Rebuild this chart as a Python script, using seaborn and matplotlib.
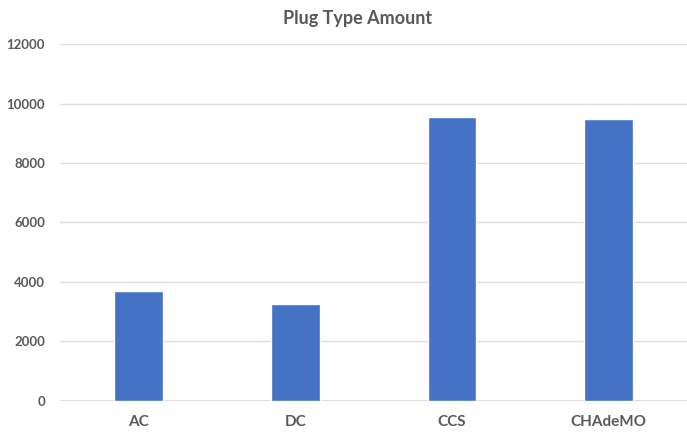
import matplotlib
matplotlib.use("Agg")
import matplotlib.pyplot as plt
import seaborn as sns
import pandas as pd

plug_types = ["AC", "DC", "CCS", "CHAdeMO"]
amounts = [3700, 3250, 9550, 9490]
y_ticks = [0, 2000, 4000, 6000, 8000, 10000, 12000]

sns.set_theme(style="white")
plt.rcParams["font.family"] = ["Lato", "DejaVu Sans"]

df = pd.DataFrame({"plug": plug_types, "amount": amounts})

fig = plt.figure(figsize=(6.87, 4.32), dpi=100)
ax = fig.add_axes([0.088, 0.072, 0.912, 0.826])

sns.barplot(data=df, x="plug", y="amount", color="#4472C4", saturation=1,
            width=0.31, ax=ax, zorder=3)

ax.set_ylim(0, 12000)
ax.set_yticks(y_ticks)
ax.set_yticklabels([str(t) for t in y_ticks])
ax.yaxis.grid(True, color="#dedede", linewidth=1, zorder=0)
ax.axhline(0, color="#d9d9d9", linewidth=1.2, zorder=2)
for s in ax.spines.values():
    s.set_visible(False)
ax.tick_params(axis="both", length=0)
ax.tick_params(axis="y", pad=11, labelsize=9.5, labelcolor="#595959")
ax.tick_params(axis="x", pad=10, labelsize=11, labelcolor="#595959")
for lbl in ax.get_xticklabels() + ax.get_yticklabels():
    lbl.set_fontweight("bold")
ax.set_xlabel("")
ax.set_ylabel("")
fig.text(0.52, 0.958, "Plug Type Amount", ha="center", va="center",
         fontsize=13, fontweight="bold", color="#595959")

fig.savefig("out.png", dpi=100, facecolor="white")
